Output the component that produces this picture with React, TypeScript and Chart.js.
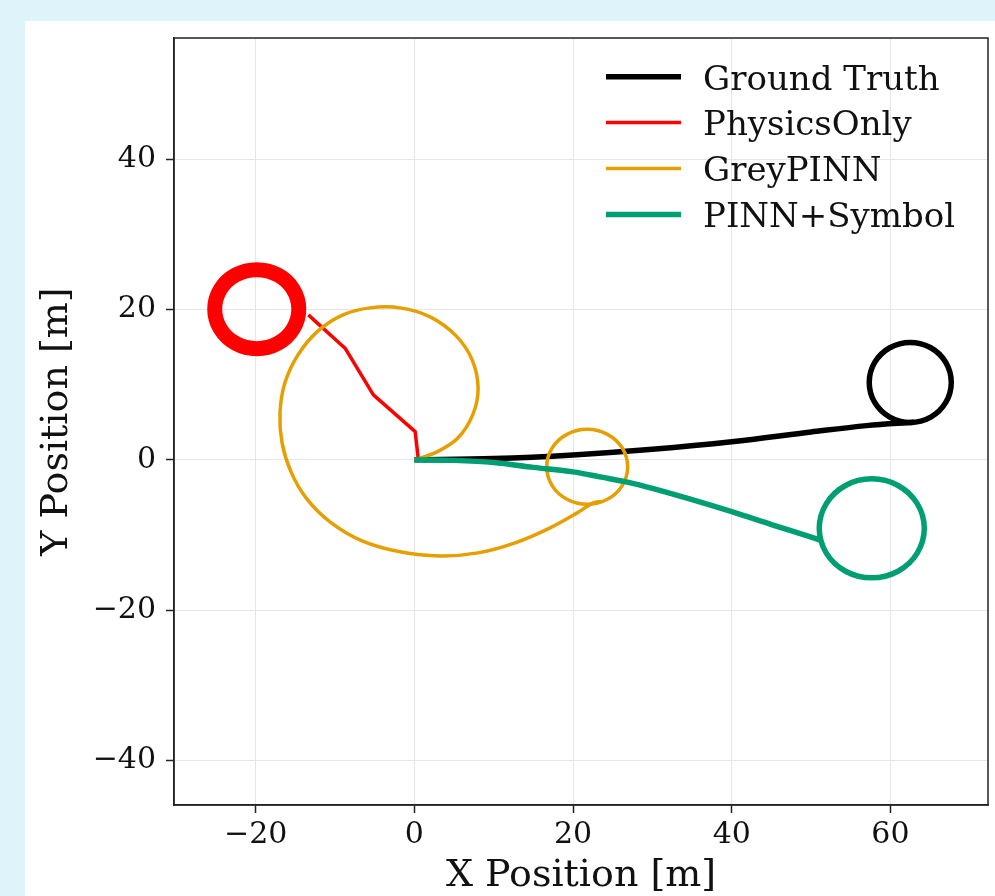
import React, { useEffect, useRef } from "react";
import { Chart, registerables } from "chart.js";

Chart.register(...registerables);

// ---- data ----
const xTicks = [-20, 0, 20, 40, 60];
const yTicks = [-40, -20, 0, 20, 40];
const xRange = [-30.3, 72.3];
const yRange = [-45.9, 56.1];

const seriesNames = ["Ground Truth", "PhysicsOnly", "GreyPINN", "PINN+Symbol"];

// Ground Truth: drive-out path, then the final loop
const truthX = [0, 10, 20, 30, 40, 50, 57, 63.0];
const truthY = [0, 0.17, 0.65, 1.4, 2.4, 3.7, 4.55, 5.0];
const truthLoopX = [66.98, 67.67, 66.98, 65.09, 62.5, 59.92, 58.02, 57.33, 58.02, 59.92, 62.5, 65.09, 66.98, 67.67, 66.98];
const truthLoopY = [7.64, 10.3, 12.96, 14.91, 15.62, 14.91, 12.96, 10.3, 7.64, 5.69, 4.98, 5.69, 7.64, 10.3, 12.96];

// PhysicsOnly: broken path, then the (repeated) loop
const physicsX = [0.5, 0.1, -5.17, -8.74, -13.37];
const physicsY = [0, 3.76, 8.64, 14.85, 19.28];
const physicsLoopX = [-15.28, -14.57, -15.28, -17.22, -19.87, -22.52, -24.46, -25.17, -24.46, -22.52, -19.87, -17.22, -15.28, -14.57, -15.28];
const physicsLoopY = [17.42, 20.04, 22.67, 24.59, 25.29, 24.59, 22.67, 20.04, 17.42, 15.49, 14.79, 15.49, 17.42, 20.04, 22.67];

// GreyPINN: big spiral, then a small loop
const greyX = [0, 2.86, 5.51, 7.4, 8.03, 7.28, 5.26, 1.98, -1.8, -5.6, -8.99, -12.14, -14.67, -16.32, -16.94, -16.68, -15.55, -13.66, -10.64, -6.6, -1.8, 3.24, 8.03, 12.7, 17.11, 20.52, 22.53, 23.6];
const greyY = [0, 1.06, 2.93, 6.12, 9.57, 13.3, 16.49, 19.02, 20.21, 20.21, 19.28, 17.15, 13.96, 10.24, 6.25, 2.26, -1.6, -5.05, -8.24, -10.77, -12.23, -12.77, -12.37, -11.04, -9.04, -7.05, -5.72, -5.55];
const greyLoopX = [24.33, 26.2, 26.88, 26.2, 24.33, 21.78, 19.23, 17.36, 16.68, 17.36, 19.23, 21.78, 24.33, 26.2, 26.88];
const greyLoopY = [-5.25, -3.43, -0.93, 1.57, 3.39, 4.06, 3.39, 1.57, -0.93, -3.43, -5.25, -5.92, -5.25, -3.43, -0.93];

// PINN+Symbol: path, then loop
const symbolX = [0, 5, 10, 15, 20, 23.6, 27, 30, 35, 40, 45, 51.1];
const symbolY = [0, -0.07, -0.35, -1.0, -1.6, -2.3, -3.0, -3.8, -5.3, -6.9, -8.6, -10.64];
const symbolLoopX = [63.38, 64.27, 63.38, 60.96, 57.65, 54.34, 51.92, 51.03, 51.92, 54.34, 57.65, 60.96, 63.38, 64.27, 63.38];
const symbolLoopY = [-12.4, -9.11, -5.82, -3.41, -2.53, -3.41, -5.82, -9.11, -12.4, -14.81, -15.69, -14.81, -12.4, -9.11, -5.82];

// ---- styles ----
const COLORS = ["#000000", "#ff0000", "#e69f00", "#009e73"];
const WIDTHS = [5.5, 3.5, 3.5, 5.5];
const FONT = "'DejaVu Serif', 'Liberation Serif', serif";

const pts = (xs: number[], ys: number[]) => xs.map((x, i) => ({ x, y: ys[i] }));
const fmt = (v: number) => (v < 0 ? "\u2212" + Math.abs(v) : String(v));

const framePlugin = {
  id: "frameAndLegend",
  afterDraw(chart: any) {
    const { ctx, chartArea } = chart;
    ctx.save();
    ctx.strokeStyle = "#222";
    ctx.lineWidth = 1.5;
    ctx.strokeRect(chartArea.left, chartArea.top, chartArea.right - chartArea.left, chartArea.bottom - chartArea.top);
    // legend (no frame, as in the reference)
    ctx.font = `34px ${FONT}`;
    ctx.textBaseline = "alphabetic";
    ctx.textAlign = "left";
    seriesNames.forEach((name, i) => {
      const base = 89.5 + i * 45.9;
      const ly = base - 12.8;
      ctx.strokeStyle = COLORS[i];
      ctx.lineWidth = WIDTHS[i];
      ctx.lineCap = "butt";
      ctx.beginPath();
      ctx.moveTo(606, ly);
      ctx.lineTo(681, ly);
      ctx.stroke();
      ctx.fillStyle = "#111";
      ctx.fillText(name, 703, base);
    });
    ctx.restore();
  },
};

export default function App() {
  const ref = useRef<HTMLCanvasElement | null>(null);
  useEffect(() => {
    if (!ref.current) return;
    const line = (data: any[], i: number, order: number, opts: any = {}) => ({
      label: seriesNames[i],
      data,
      showLine: true,
      borderColor: COLORS[i],
      backgroundColor: COLORS[i],
      borderWidth: WIDTHS[i],
      pointRadius: 0,
      tension: 0.35,
      fill: false,
      order,
      borderCapStyle: "butt",
      borderJoinStyle: "round",
      ...opts,
    });
    // closed loop: the first and last (overlap) segments only shape the curve, they are not drawn
    const loop = (data: any[], i: number, order: number, opts: any = {}) =>
      line(data, i, order, {
        borderCapStyle: "round",
        segment: {
          borderColor: (c: any) =>
            c.p0DataIndex === 0 || c.p1DataIndex === data.length - 1 ? "rgba(0,0,0,0)" : undefined,
        },
        ...opts,
      });
    const chart = new Chart(ref.current, {
      type: "scatter",
      data: {
        datasets: [
          line(pts(truthX, truthY), 0, 4),
          loop(pts(truthLoopX, truthLoopY), 0, 4),
          line(pts(physicsX, physicsY), 1, 3, { tension: 0 }),
          loop(pts(physicsLoopX, physicsLoopY), 1, 3, { borderWidth: 15 }),
          line(pts(greyX, greyY), 2, 2),
          loop(pts(greyLoopX, greyLoopY), 2, 2),
          line(pts(symbolX, symbolY), 3, 1),
          loop(pts(symbolLoopX, symbolLoopY), 3, 1),
        ] as any,
      },
      options: {
        animation: false,
        responsive: false,
        devicePixelRatio: 1,
        layout: { padding: { left: 0, top: 38, right: 7, bottom: 0 } },
        plugins: { legend: { display: false }, tooltip: { enabled: false }, title: { display: false } },
        scales: {
          x: {
            type: "linear",
            min: xRange[0],
            max: xRange[1],
            afterBuildTicks: (s: any) => {
              s.ticks = xTicks.map((v) => ({ value: v }));
            },
            afterFit: (s: any) => {
              s.height = 91;
            },
            ticks: {
              callback: (v: any) => fmt(Number(v)),
              font: { family: FONT, size: 30, lineHeight: 1 },
              color: "#111",
              padding: 7,
              maxRotation: 0,
              autoSkip: false,
            },
            grid: { color: "#e6e6e6", lineWidth: 1, tickColor: "#222", tickLength: 8, tickWidth: 1.5 },
            border: { display: true, color: "#222", width: 1.5 },
            title: {
              display: true,
              text: "X Position [m]",
              font: { family: FONT, size: 38, lineHeight: 1 },
              color: "#111",
              padding: { top: 0, bottom: 1 },
            },
          },
          y: {
            type: "linear",
            min: yRange[0],
            max: yRange[1],
            afterBuildTicks: (s: any) => {
              s.ticks = yTicks.map((v) => ({ value: v }));
            },
            afterFit: (s: any) => {
              s.width = 174;
            },
            ticks: {
              callback: (v: any) => fmt(Number(v)),
              font: { family: FONT, size: 30, lineHeight: 1 },
              color: "#111",
              padding: 10,
              autoSkip: false,
            },
            grid: { color: "#e6e6e6", lineWidth: 1, tickColor: "#222", tickLength: 8, tickWidth: 1.5 },
            border: { display: true, color: "#222", width: 1.5 },
            title: {
              display: true,
              text: "Y Position [m]",
              font: { family: FONT, size: 38, lineHeight: 1 },
              color: "#111",
              padding: { top: 38.5, bottom: 0 },
            },
          },
        },
      } as any,
      plugins: [framePlugin],
    });
    return () => chart.destroy();
  }, []);

  return (
    <div style={{ position: "fixed", left: 0, top: 0, width: 995, height: 896, background: "#dff3fb", overflow: "hidden" }}>
      <div style={{ position: "absolute", left: 25, top: 21, width: 970, height: 875, background: "#ffffff" }} />
      <canvas ref={ref} width={995} height={896} style={{ position: "absolute", left: 0, top: 0, width: 995, height: 896 }} />
    </div>
  );
}
